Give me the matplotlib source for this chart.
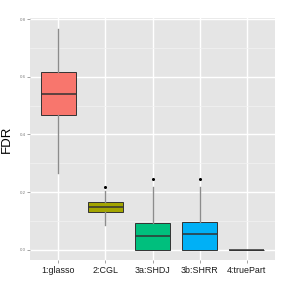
import matplotlib
matplotlib.use("Agg")
import matplotlib.pyplot as plt

methods = ["1:glasso", "2:CGL", "3a:SHDJ", "3b:SHRR", "4:truePart"]
colors = ["#F8766D", "#A3A500", "#00BF7D", "#00B0F6", "#E76BF3"]
whisker_low = [0.267, 0.085, 0.0, 0.0, 0.0]
q1 = [0.466, 0.130, 0.0, 0.0, 0.0]
median = [0.540, 0.147, 0.047, 0.055, 0.0]
q3 = [0.616, 0.165, 0.093, 0.095, 0.0]
whisker_high = [0.765, 0.205, 0.218, 0.218, 0.0]
outliers = [[], [0.218], [0.247], [0.247], []]

plt.rcParams["font.family"] = ["Liberation Sans", "DejaVu Sans"]

fig = plt.figure(figsize=(2.84, 2.84), dpi=100)
ax = fig.add_axes([30 / 284, 1 - 260 / 284, 245 / 284, 242 / 284])
ax.set_facecolor("#E5E5E5")

stats = []
for i, name in enumerate(methods):
    stats.append({
        "label": name, "whislo": whisker_low[i], "q1": q1[i], "med": median[i],
        "q3": q3[i], "whishi": whisker_high[i], "fliers": outliers[i],
    })

positions = list(range(1, len(methods) + 1))
bp = ax.bxp(
    stats, positions=positions, widths=0.75, patch_artist=True, showcaps=False,
    boxprops=dict(edgecolor="#333333", linewidth=0.7),
    whiskerprops=dict(color="#8C8C8C", linewidth=1.0),
    medianprops=dict(color="#333333", linewidth=1.1),
    flierprops=dict(marker="o", markersize=1.2, markerfacecolor="black",
                    markeredgecolor="black"),
    zorder=3,
)
for patch, color in zip(bp["boxes"], colors):
    patch.set_facecolor(color)

ax.set_xlim(0.4, len(methods) + 0.6)
ax.set_ylim(-0.036, 0.8045)
ax.set_yticks([0.0, 0.2, 0.4, 0.6, 0.8])
ax.set_yticks([0.1, 0.3, 0.5, 0.7], minor=True)
ax.set_yticklabels(["0.0", "0.2", "0.4", "0.6", "0.8"])
ax.set_xticks(positions)
ax.set_xticklabels(methods)
ax.grid(which="major", color="white", linewidth=1.0, zorder=0)
ax.grid(which="minor", axis="y", color="#F2F2F2", linewidth=0.5, zorder=0)
ax.set_axisbelow(True)
for spine in ax.spines.values():
    spine.set_visible(False)
ax.tick_params(axis="y", which="major", labelsize=3.2, labelcolor="#7F7F7F",
               color="#7F7F7F", length=2, width=0.5, pad=1)
ax.tick_params(axis="x", which="major", labelsize=6.4, labelcolor="#1A1A1A",
               color="#7F7F7F", length=2, width=0.5, pad=2.5)
ax.tick_params(which="minor", length=0)
ax.set_ylabel("FDR", fontsize=9.5, labelpad=5)

fig.savefig("out.png", dpi=100)
plt.close(fig)
